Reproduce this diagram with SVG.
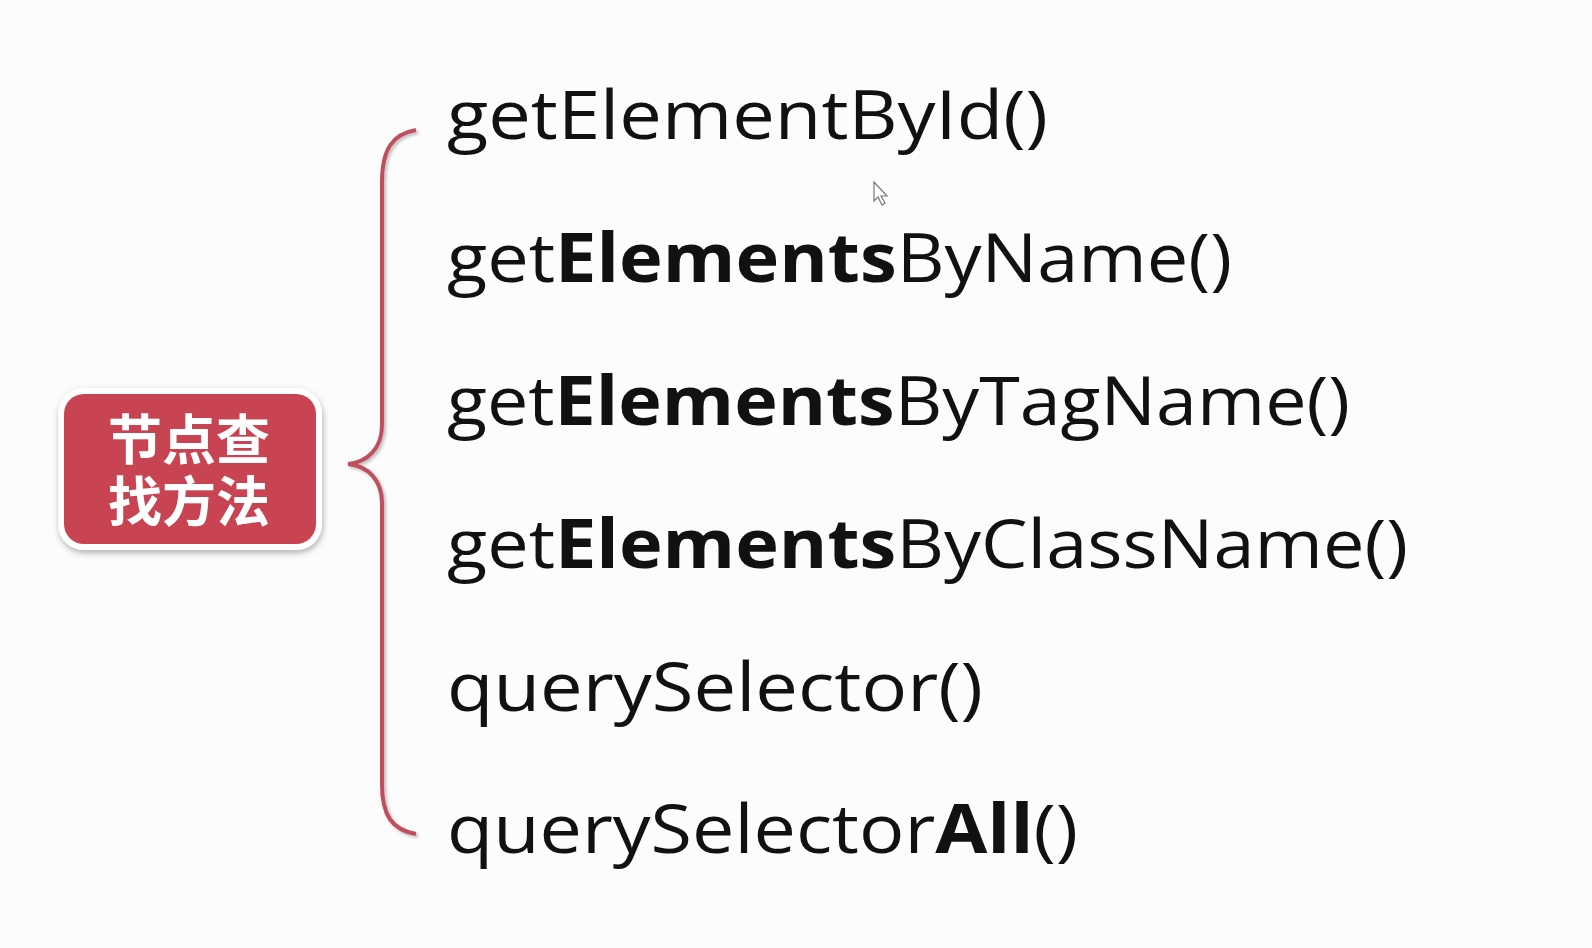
<svg xmlns="http://www.w3.org/2000/svg" width="1592" height="948" viewBox="0 0 1592 948">
<defs>
<style>
.m{font-family:"Open Sans","Noto Sans",sans-serif;font-size:68px;fill:#111;}
.b{font-weight:bold;}
.cn{font-family:"Noto Sans CJK SC","Noto Sans",sans-serif;font-size:54px;font-weight:bold;fill:#fff;}
</style>
<filter id="sh" x="-20%" y="-20%" width="140%" height="140%">
<feDropShadow dx="1" dy="3" stdDeviation="3" flood-color="#000" flood-opacity="0.3"/>
</filter>
<filter id="bsh" x="-50%" y="-5%" width="200%" height="110%">
<feDropShadow dx="2" dy="2" stdDeviation="1.5" flood-color="#000" flood-opacity="0.25"/>
</filter>
</defs>
<rect width="1592" height="948" fill="#fcfcfc"/>
<g id="root">
<rect x="58" y="388" width="264" height="162" rx="26" fill="#fff" filter="url(#sh)"/>
<rect x="64" y="394" width="252" height="150" rx="20" fill="#c84452"/>
<text class="cn" text-anchor="middle"><tspan x="189" y="460">节点查</tspan><tspan x="189" y="522">找方法</tspan></text>
</g>
<g id="connectors">
<path d="M416,130 C392,134 382,150 382,182 L382,425 C382,448 368,462 348,464 C368,466 382,480 382,503 L382,785 C382,815 392,830 416,834" fill="none" stroke="#c0505d" stroke-width="4" filter="url(#bsh)"/>
</g>
<g id="m1"><text class="m" x="447" y="139" textLength="601" lengthAdjust="spacingAndGlyphs">getElementById()</text></g>
<g id="m2"><text class="m" x="447" y="282" textLength="785" lengthAdjust="spacingAndGlyphs">get<tspan class="b">Elements</tspan>ByName()</text></g>
<g id="m3"><text class="m" x="447" y="425" textLength="903" lengthAdjust="spacingAndGlyphs">get<tspan class="b">Elements</tspan>ByTagName()</text></g>
<g id="m4"><text class="m" x="447" y="568" textLength="961" lengthAdjust="spacingAndGlyphs">get<tspan class="b">Elements</tspan>ByClassName()</text></g>
<g id="m5"><text class="m" x="447" y="711" textLength="536" lengthAdjust="spacingAndGlyphs">querySelector()</text></g>
<g id="m6"><text class="m" x="447" y="853" textLength="631" lengthAdjust="spacingAndGlyphs">querySelector<tspan class="b">All</tspan>()</text></g>
<g id="cursor"><path d="M874,182 L874,201 L878,197 L882,205 L885,203 L881,196 L887,196 Z" fill="#fff" stroke="#777" stroke-width="1.2"/></g>
</svg>
